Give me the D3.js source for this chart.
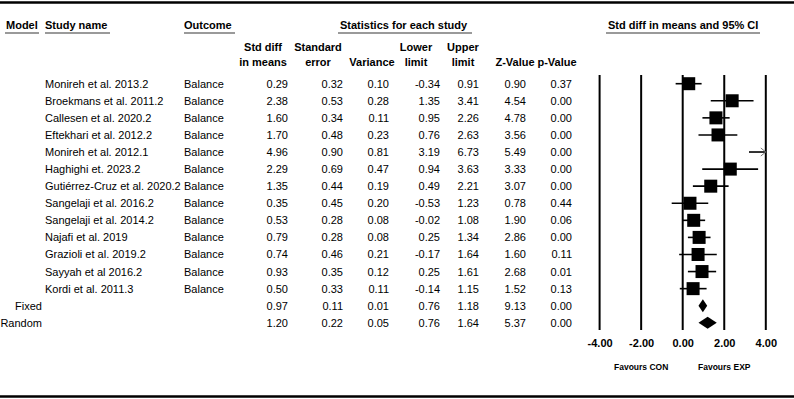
<!DOCTYPE html>
<html>
<head>
<meta charset="utf-8">
<script src="https://cdn.jsdelivr.net/npm/d3@7"></script>
<style>
	body { margin: 0; background: #fff; }
	svg text { font-family: "Liberation Sans", Arial, sans-serif; }
</style>
</head>
<body>
<svg id="chart" width="794" height="399"></svg>
<script>
// studies
var studies = ["Monireh et al. 2013.2", "Broekmans et al. 2011.2", "Callesen et al. 2020.2",
	"Eftekhari et al. 2012.2", "Monireh et al. 2012.1", "Haghighi et. 2023.2",
	"Gutiérrez-Cruz et al. 2020.2", "Sangelaji et al. 2016.2", "Sangelaji et al. 2014.2",
	"Najafi et al. 2019", "Grazioli et al. 2019.2", "Sayyah et al 2016.2", "Kordi et al. 2011.3"]
var outcomes = ["Balance", "Balance", "Balance", "Balance", "Balance", "Balance", "Balance",
	"Balance", "Balance", "Balance", "Balance", "Balance", "Balance"]
var smd      = [0.29, 2.38, 1.60, 1.70, 4.96, 2.29, 1.35, 0.35, 0.53, 0.79, 0.74, 0.93, 0.50]
var stdErr   = [0.32, 0.53, 0.34, 0.48, 0.90, 0.69, 0.44, 0.45, 0.28, 0.28, 0.46, 0.35, 0.33]
var variance = [0.10, 0.28, 0.11, 0.23, 0.81, 0.47, 0.19, 0.20, 0.08, 0.08, 0.21, 0.12, 0.11]
var lower    = [-0.34, 1.35, 0.95, 0.76, 3.19, 0.94, 0.49, -0.53, -0.02, 0.25, -0.17, 0.25, -0.14]
var upper    = [0.91, 3.41, 2.26, 2.63, 6.73, 3.63, 2.21, 1.23, 1.08, 1.34, 1.64, 1.61, 1.15]
var zValue   = [0.90, 4.54, 4.78, 3.56, 5.49, 3.33, 3.07, 0.78, 1.90, 2.86, 1.60, 2.68, 1.52]
var pValue   = [0.37, 0.00, 0.00, 0.00, 0.00, 0.00, 0.00, 0.44, 0.06, 0.00, 0.11, 0.01, 0.13]

// summary models
var models      = ["Fixed", "Random"]
var modelSmd    = [0.97, 1.20]
var modelSe     = [0.11, 0.22]
var modelVar    = [0.01, 0.05]
var modelLower  = [0.76, 0.76]
var modelUpper  = [1.18, 1.64]
var modelZ      = [9.13, 5.37]
var modelP      = [0.00, 0.00]

var axisTicks = [-4, -2, 0, 2, 4]
var favourLabels = ["Favours CON", "Favours EXP"]
var favourAt = [-2, 2]

var svg = d3.select("#chart")
// plain hyphen for negatives, like the original
var locale = d3.formatLocale({decimal: ".", thousands: ",", grouping: [3], currency: ["$", ""], minus: "-"})
var fmt = locale.format(".2f")

var x = d3.scaleLinear().domain([-4, 4]).range([599.6, 765.8])
var nRows = studies.length + models.length
var y = d3.scaleLinear().domain([0, nRows - 1]).range([83.7, 322.8])

// rules top and bottom
svg.append("line").attr("x1", 0).attr("x2", 794).attr("y1", 2.5).attr("y2", 2.5)
	.attr("stroke", "#000").attr("stroke-width", 2.5)
svg.append("line").attr("x1", 0).attr("x2", 794).attr("y1", 396.5).attr("y2", 396.5)
	.attr("stroke", "#000").attr("stroke-width", 2.5)

// group headers with grey underline
var groupHeads = [
	{t: "Model", x: 6, x1: 5, x2: 39},
	{t: "Study name", x: 45, x1: 45, x2: 110},
	{t: "Outcome", x: 184, x1: 184, x2: 235},
	{t: "Statistics for each study", x: 340, x1: 338, x2: 472},
	{t: "Std diff in means and 95% CI", x: 608, x1: 606, x2: 760}
]
groupHeads.forEach(function(h){
	svg.append("text").attr("x", h.x).attr("y", 29).text(h.t)
		.attr("font-size", 11).attr("font-weight", "bold")
	svg.append("line").attr("x1", h.x1).attr("x2", h.x2).attr("y1", 33).attr("y2", 33)
		.attr("stroke", "#9a9a9a").attr("stroke-width", 2)
})

// numeric columns
var cols = [
	{head: ["Std diff", "in means"], hx: 263, right: 288, vals: smd, mvals: modelSmd},
	{head: ["Standard", "error"], hx: 318, right: 343, vals: stdErr, mvals: modelSe},
	{head: ["", "Variance"], hx: 372, right: 389, vals: variance, mvals: modelVar},
	{head: ["Lower", "limit"], hx: 416, right: 440, vals: lower, mvals: modelLower},
	{head: ["Upper", "limit"], hx: 463, right: 479, vals: upper, mvals: modelUpper},
	{head: ["", "Z-Value"], hx: 515, right: 526, vals: zValue, mvals: modelZ},
	{head: ["", "p-Value"], hx: 557, right: 572, vals: pValue, mvals: modelP}
]

cols.forEach(function(c){
	c.head.forEach(function(line, j){
		svg.append("text").attr("x", c.hx).attr("y", 51 + j * 15)
			.attr("text-anchor", "middle").attr("font-size", 11).attr("font-weight", "bold")
			.text(line)
	})
	var all = c.vals.concat(c.mvals)
	svg.append("g").selectAll("text").data(all).join("text")
		.attr("x", c.right).attr("y", (d, i) => y(i) + 4)
		.attr("text-anchor", "end").attr("font-size", 11)
		.text(d => fmt(d))
})

// study names and outcome
svg.append("g").selectAll("text").data(studies).join("text")
	.attr("x", 45).attr("y", (d, i) => y(i) + 4).attr("font-size", 11).text(d => d)
svg.append("g").selectAll("text").data(outcomes).join("text")
	.attr("x", 184).attr("y", (d, i) => y(i) + 4).attr("font-size", 11).text(d => d)
svg.append("g").selectAll("text").data(models).join("text")
	.attr("x", 42).attr("y", (d, i) => y(studies.length + i) + 4)
	.attr("text-anchor", "end").attr("font-size", 11).text(d => d)

// forest plot: vertical lines
svg.append("g").selectAll("line").data(axisTicks).join("line")
	.attr("x1", d => x(d)).attr("x2", d => x(d))
	.attr("y1", 75).attr("y2", 330)
	.attr("stroke", "#000").attr("stroke-width", 2)

// axis labels
var axis = d3.axisBottom(x).tickValues(axisTicks).tickFormat(fmt).tickSize(0).tickPadding(0)
var ag = svg.append("g").attr("transform", "translate(0,339)").call(axis)
ag.select(".domain").remove()
ag.selectAll("text").attr("font-size", 11).attr("font-weight", "bold")
	.attr("fill", "#000").attr("font-family", "Liberation Sans, Arial, sans-serif")

svg.append("g").selectAll("text").data(favourLabels).join("text")
	.attr("x", (d, i) => x(favourAt[i])).attr("y", 370)
	.attr("text-anchor", "middle").attr("font-size", 8.5).attr("font-weight", "bold")
	.text(d => d)

// CI lines and squares
var lo = x.domain()[0], hi = x.domain()[1]
var plot = svg.append("g")
studies.forEach(function(s, i){
	var a = Math.max(lower[i], lo), b = Math.min(upper[i], hi)
	var yy = y(i)
	plot.append("line").attr("x1", x(a)).attr("x2", x(b)).attr("y1", yy).attr("y2", yy)
		.attr("stroke", "#000").attr("stroke-width", 1.6)
	if (upper[i] > hi) {
		plot.append("path")
			.attr("d", "M" + (x(hi) - 5) + "," + (yy - 4) + "L" + x(hi) + "," + yy + "L" + (x(hi) - 5) + "," + (yy + 4))
			.attr("fill", "none").attr("stroke", "#777").attr("stroke-width", 1)
	}
	if (smd[i] >= lo && smd[i] <= hi) {
		var sz = 13
		plot.append("rect").attr("x", x(smd[i]) - sz / 2).attr("y", yy - sz / 2)
			.attr("width", sz).attr("height", sz).attr("fill", "#000")
	}
})

// summary diamonds
var diamondH = [13, 12]
models.forEach(function(m, i){
	var yy = y(studies.length + i), h = diamondH[i] / 2
	plot.append("path")
		.attr("d", "M" + x(modelLower[i]) + "," + yy + "L" + x(modelSmd[i]) + "," + (yy - h) +
			"L" + x(modelUpper[i]) + "," + yy + "L" + x(modelSmd[i]) + "," + (yy + h) + "Z")
		.attr("fill", "#000")
})
</script>
</body>
</html>
